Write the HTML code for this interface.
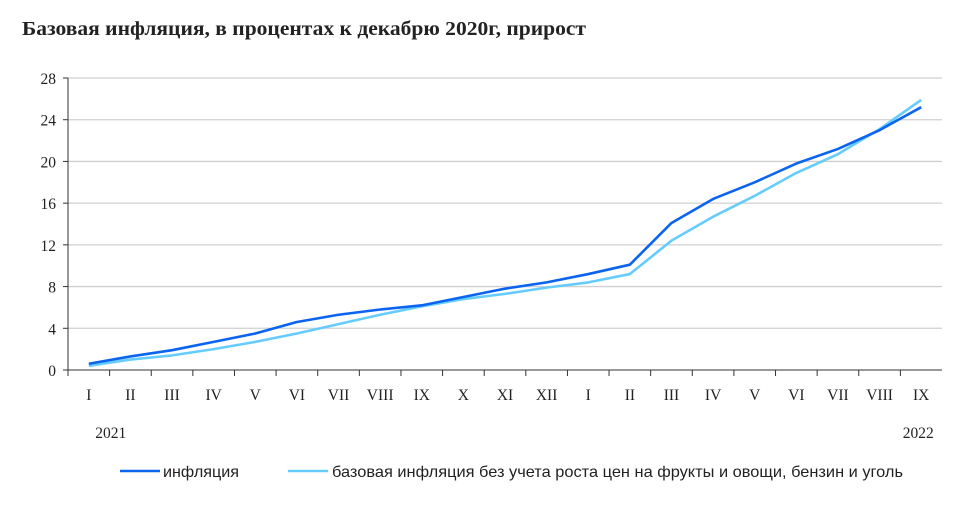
<!DOCTYPE html>
<html><head><meta charset="utf-8"><style>
body{margin:0;background:#fff;font-family:"Liberation Serif",serif}
svg text{font-family:"Liberation Serif","Noto Serif CJK SC",serif;fill:#222}
svg text.sans{font-family:"Liberation Sans","Noto Sans CJK SC",sans-serif}
</style></head><body>
<svg id="c" width="975" height="503">
<text x="22" y="35" font-size="20" font-weight="bold" textLength="564" lengthAdjust="spacingAndGlyphs">Базовая инфляция, в процентах к декабрю 2020г, прирост</text>
</svg>
<script>
const categories=["I","II","III","IV","V","VI","VII","VIII","IX","X","XI","XII","I","II","III","IV","V","VI","VII","VIII","IX"];
const inflation=[0.6,1.3,1.9,2.7,3.5,4.6,5.3,5.8,6.2,7.0,7.8,8.4,9.2,10.1,14.1,16.4,18.0,19.8,21.2,23.0,25.2];
const coreInflation=[0.4,1.0,1.4,2.0,2.7,3.5,4.4,5.3,6.1,6.8,7.3,7.9,8.4,9.2,12.4,14.7,16.7,18.9,20.7,23.1,25.9];
const yTicks=[0,4,8,12,16,20,24,28];
const ns="http://www.w3.org/2000/svg",svg=document.getElementById('c');
const X0=68,X1=942,Y0=370,Y1=78,cw=(X1-X0)/categories.length;
const xs=i=>X0+cw*(i+0.5), ys=v=>Y0-(v/28)*(Y0-Y1);
function mk(t,a,p){const e=document.createElementNS(ns,t);for(const k in a)e.setAttribute(k,a[k]);(p||svg).appendChild(e);return e;}
yTicks.forEach(v=>{
 if(v>0){const g=mk('line',{x1:X0,x2:X1,y1:ys(v),y2:ys(v),stroke:'#d0d0d0','stroke-width':1.3});
 
 }
 const tk=mk('line',{x1:X0-5,x2:X0,y1:ys(v),y2:ys(v),stroke:'#333'});
 
 
 const t=mk('text',{x:X0-12,y:ys(v)+6,'text-anchor':'end','font-size':15.5});t.textContent=v;
 
 
});
const ax=mk('line',{x1:X0,x2:X0,y1:Y1,y2:Y0,stroke:'#333'});


const bx=mk('line',{x1:X0,x2:X1,y1:Y0,y2:Y0,stroke:'#333'});


categories.forEach((c,i)=>{
 const tk=mk('line',{x1:X0+cw*i,x2:X0+cw*i,y1:Y0,y2:Y0+6,stroke:'#333'});
 
 
 const t=mk('text',{x:xs(i),y:400,'text-anchor':'middle','font-size':15.5});t.textContent=c;
 
 
});
[[xs(0)+22,'2021','year-2021'],[xs(20)-3,'2022','year-2022']].forEach(d=>{
 const t=mk('text',{x:d[0],y:438,'text-anchor':'middle','font-size':15.5});t.textContent=d[1];
 
 
});
function line(data,color,name){
 const p=mk('polyline',{points:data.map((v,i)=>xs(i)+','+ys(v)).join(' '),fill:'none',stroke:color,'stroke-width':2.6,'stroke-linejoin':'round'});
 
 
}
line(coreInflation,'#66ccff','line-core-inflation');
line(inflation,'#0a64f0','line-inflation');
const l1=mk('line',{x1:120,x2:160,y1:471,y2:471,stroke:'#0a64f0','stroke-width':2.6});


const t1=mk('text',{x:163,y:477,'font-size':16,'class':'sans',textLength:76,lengthAdjust:'spacingAndGlyphs'});t1.textContent='инфляция';


const l2=mk('line',{x1:288,x2:328,y1:471,y2:471,stroke:'#66ccff','stroke-width':2.6});


const t2=mk('text',{x:332,y:477,'font-size':16,'class':'sans',textLength:571,lengthAdjust:'spacingAndGlyphs'});t2.textContent='базовая инфляция без учета роста цен на фрукты и овощи, бензин и уголь';


</script>
</body></html>
